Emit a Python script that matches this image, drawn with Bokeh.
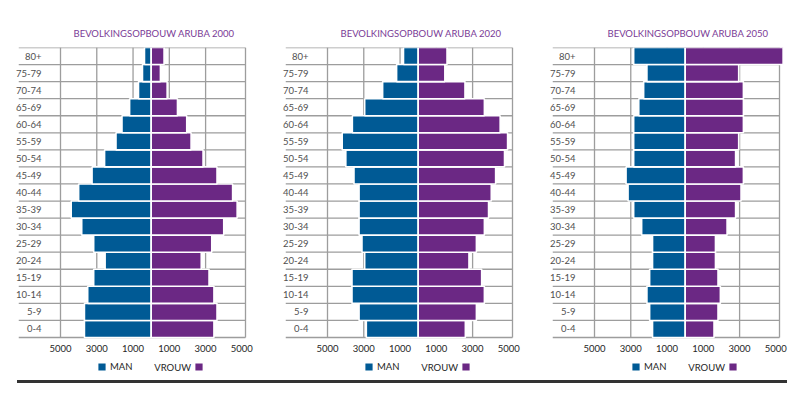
from bokeh.plotting import figure
from bokeh.models import FixedTicker, Legend, LegendItem, Label, Div, Range1d
from bokeh.layouts import row, column
from bokeh.embed import file_html
from bokeh.resources import INLINE

# Age groups, bottom (youngest) to top (oldest)
age_groups = ["0-4", "5-9", "10-14", "15-19", "20-24", "25-29", "30-34", "35-39",
              "40-44", "45-49", "50-54", "55-59", "60-64", "65-69", "70-74", "75-79", "80+"]

# Values listed bottom (0-4) to top (80+)
male_2000 = [3680, 3680, 3500, 3170, 2540, 3170, 3830, 4410, 4000, 3260, 2570, 1940, 1610, 1190, 700, 480, 370]
female_2000 = [3460, 3630, 3460, 3190, 2760, 3340, 4000, 4740, 4490, 3630, 2860, 2200, 1960, 1450, 880, 510, 710]

male_2020 = [2860, 3260, 3650, 3650, 2950, 3100, 3260, 3260, 3260, 3540, 3990, 4190, 3630, 2950, 1960, 1190, 810]
female_2020 = [2600, 3210, 3650, 3500, 2800, 3210, 3650, 3880, 4030, 4270, 4760, 4930, 4520, 3650, 2580, 1470, 1590]

male_2050 = [1800, 1960, 2110, 1960, 1800, 1800, 2400, 2840, 3150, 3260, 2840, 2840, 2840, 2560, 2290, 2110, 2840]
female_2050 = [1590, 1810, 1940, 1810, 1670, 1670, 2310, 2780, 3080, 3210, 2780, 2950, 3210, 3210, 3210, 2950, 5400]

x_ticks = [-5000, -3000, -1000, 1000, 3000, 5000]
grid_ticks = [-5000, -3000, -1000, 1000, 3000]
x_min, x_max = -5000, 5200

titles = ["BEVOLKINGSOPBOUW ARUBA 2000", "BEVOLKINGSOPBOUW ARUBA 2020", "BEVOLKINGSOPBOUW ARUBA 2050"]
legend_labels = ["MAN", "VROUW"]

BLUE = "#005a95"
PURPLE = "#6b2884"
GRID = "#9d9d9d"
FONT = "Lato"

# layout constants (pixels)
BAR_W = 185        # px from x_min to x_max
LABEL_W = 42       # px left of x_min used by the age labels
EXTRA_W = 14       # px right of x_max (room for the last tick label)
FRAME_W = LABEL_W + BAR_W + EXTRA_W
ROWS_H = 290       # height of the 17 bar rows
BELOW_H = 39       # room under the rows for tick labels and legend
TOP = 47
per_px = (x_max - x_min) / BAR_W
x_start = x_min - LABEL_W * per_px
x_end = x_max + EXTRA_W * per_px


def make_panel(title, male, female, width):
    n = len(age_groups)
    y_start = -0.5 - BELOW_H * n / ROWS_H
    p = figure(width=width, height=TOP + ROWS_H + BELOW_H, output_backend="svg",
               toolbar_location=None,
               x_range=Range1d(x_start, x_end), y_range=Range1d(y_start, n - 0.5),
               min_border_left=18, min_border_right=width - 18 - FRAME_W,
               min_border_top=TOP, min_border_bottom=0)
    p.title.text = title
    p.title.align = "left"
    p.title.offset = 55
    p.title.standoff = 18
    p.title.text_font = FONT
    p.title.text_font_size = "9.5px"
    p.title.text_font_style = "normal"
    p.title.text_color = "#7a3b96"
    p.outline_line_color = None
    p.xgrid.grid_line_color = None
    p.ygrid.grid_line_color = None

    ys = list(range(n))
    bounds = [i - 0.5 for i in range(n + 1)]
    # row separators across label + bar area
    p.segment(x0=[x_start] * len(bounds), x1=[x_max] * len(bounds), y0=bounds, y1=bounds,
              line_color=GRID, line_width=1.3)
    # vertical value lines (and right frame) spanning only the bar rows
    vlines = grid_ticks + [x_max]
    p.segment(x0=vlines, x1=vlines, y0=[bounds[0]] * len(vlines), y1=[bounds[-1]] * len(vlines),
              line_color=GRID, line_width=1.3)

    neg_male = [-v for v in male]
    zeros = [0] * n
    rm = p.hbar(y=ys, left=neg_male, right=zeros, height=1.0, fill_color=BLUE,
                line_color="white", line_width=1.6)
    rf = p.hbar(y=ys, left=zeros, right=female, height=1.0, fill_color=PURPLE,
                line_color="white", line_width=1.6)

    # y axis: age labels drawn inside the label area of the frame
    ya = p.yaxis[0]
    ya.ticker = FixedTicker(ticks=ys)
    ya.major_label_overrides = {i: lab for i, lab in enumerate(age_groups)}
    ya.major_tick_line_color = None
    ya.minor_tick_line_color = None
    ya.major_tick_out = 0
    ya.major_tick_in = 0
    ya.axis_line_color = None
    ya.major_label_standoff = -23
    ya.major_label_text_font = FONT
    ya.major_label_text_font_size = "9.5px"
    ya.major_label_text_color = "#505050"

    # x axis sits at the bottom of the bar rows
    xa = p.xaxis[0]
    xa.fixed_location = bounds[0]
    xa.ticker = FixedTicker(ticks=x_ticks)
    xa.major_label_overrides = {t: str(abs(t)) for t in x_ticks}
    xa.axis_line_color = None
    xa.major_tick_line_color = None
    xa.minor_tick_line_color = None
    xa.major_tick_out = 0
    xa.major_tick_in = 0
    xa.major_label_standoff = 7
    xa.major_label_text_font = FONT
    xa.major_label_text_font_size = "9.5px"
    xa.major_label_text_color = "#262626"

    common = dict(orientation="horizontal", glyph_width=11, glyph_height=11,
                  label_height=11, label_width=0, padding=0, margin=0,
                  border_line_color=None, background_fill_alpha=0,
                  label_text_font=FONT, label_text_font_size="9.5px",
                  label_text_color="#262626")
    leg_m = Legend(items=[LegendItem(label=legend_labels[0], renderers=[rm])],
                   location=(78, 4), label_standoff=3, **common)
    leg_f = Legend(items=[LegendItem(label=" ", renderers=[rf])],
                   location=(175, 4), label_standoff=0, **common)
    p.add_layout(leg_m)
    p.add_layout(leg_f)
    # text of the VROUW entry sits left of its swatch, as in the original
    vr = Label(x=172.5, y=9.5, x_units="screen", y_units="screen", text=legend_labels[1],
               text_align="right", text_baseline="middle", text_font=FONT,
               text_font_size="9.5px", text_color="#262626")
    p.add_layout(vr)
    return p


p1 = make_panel(titles[0], male_2000, female_2000, 267)
p2 = make_panel(titles[1], male_2020, female_2020, 267)
p3 = make_panel(titles[2], male_2050, female_2050, 260)

rule = Div(text="", width=770, height=3, margin=(4, 0, 0, 17),
           styles={"background-color": "#333333"})

layout = column(row(p1, p2, p3, spacing=0), rule, spacing=0)

open("out.html", "w").write(file_html(layout, INLINE))
